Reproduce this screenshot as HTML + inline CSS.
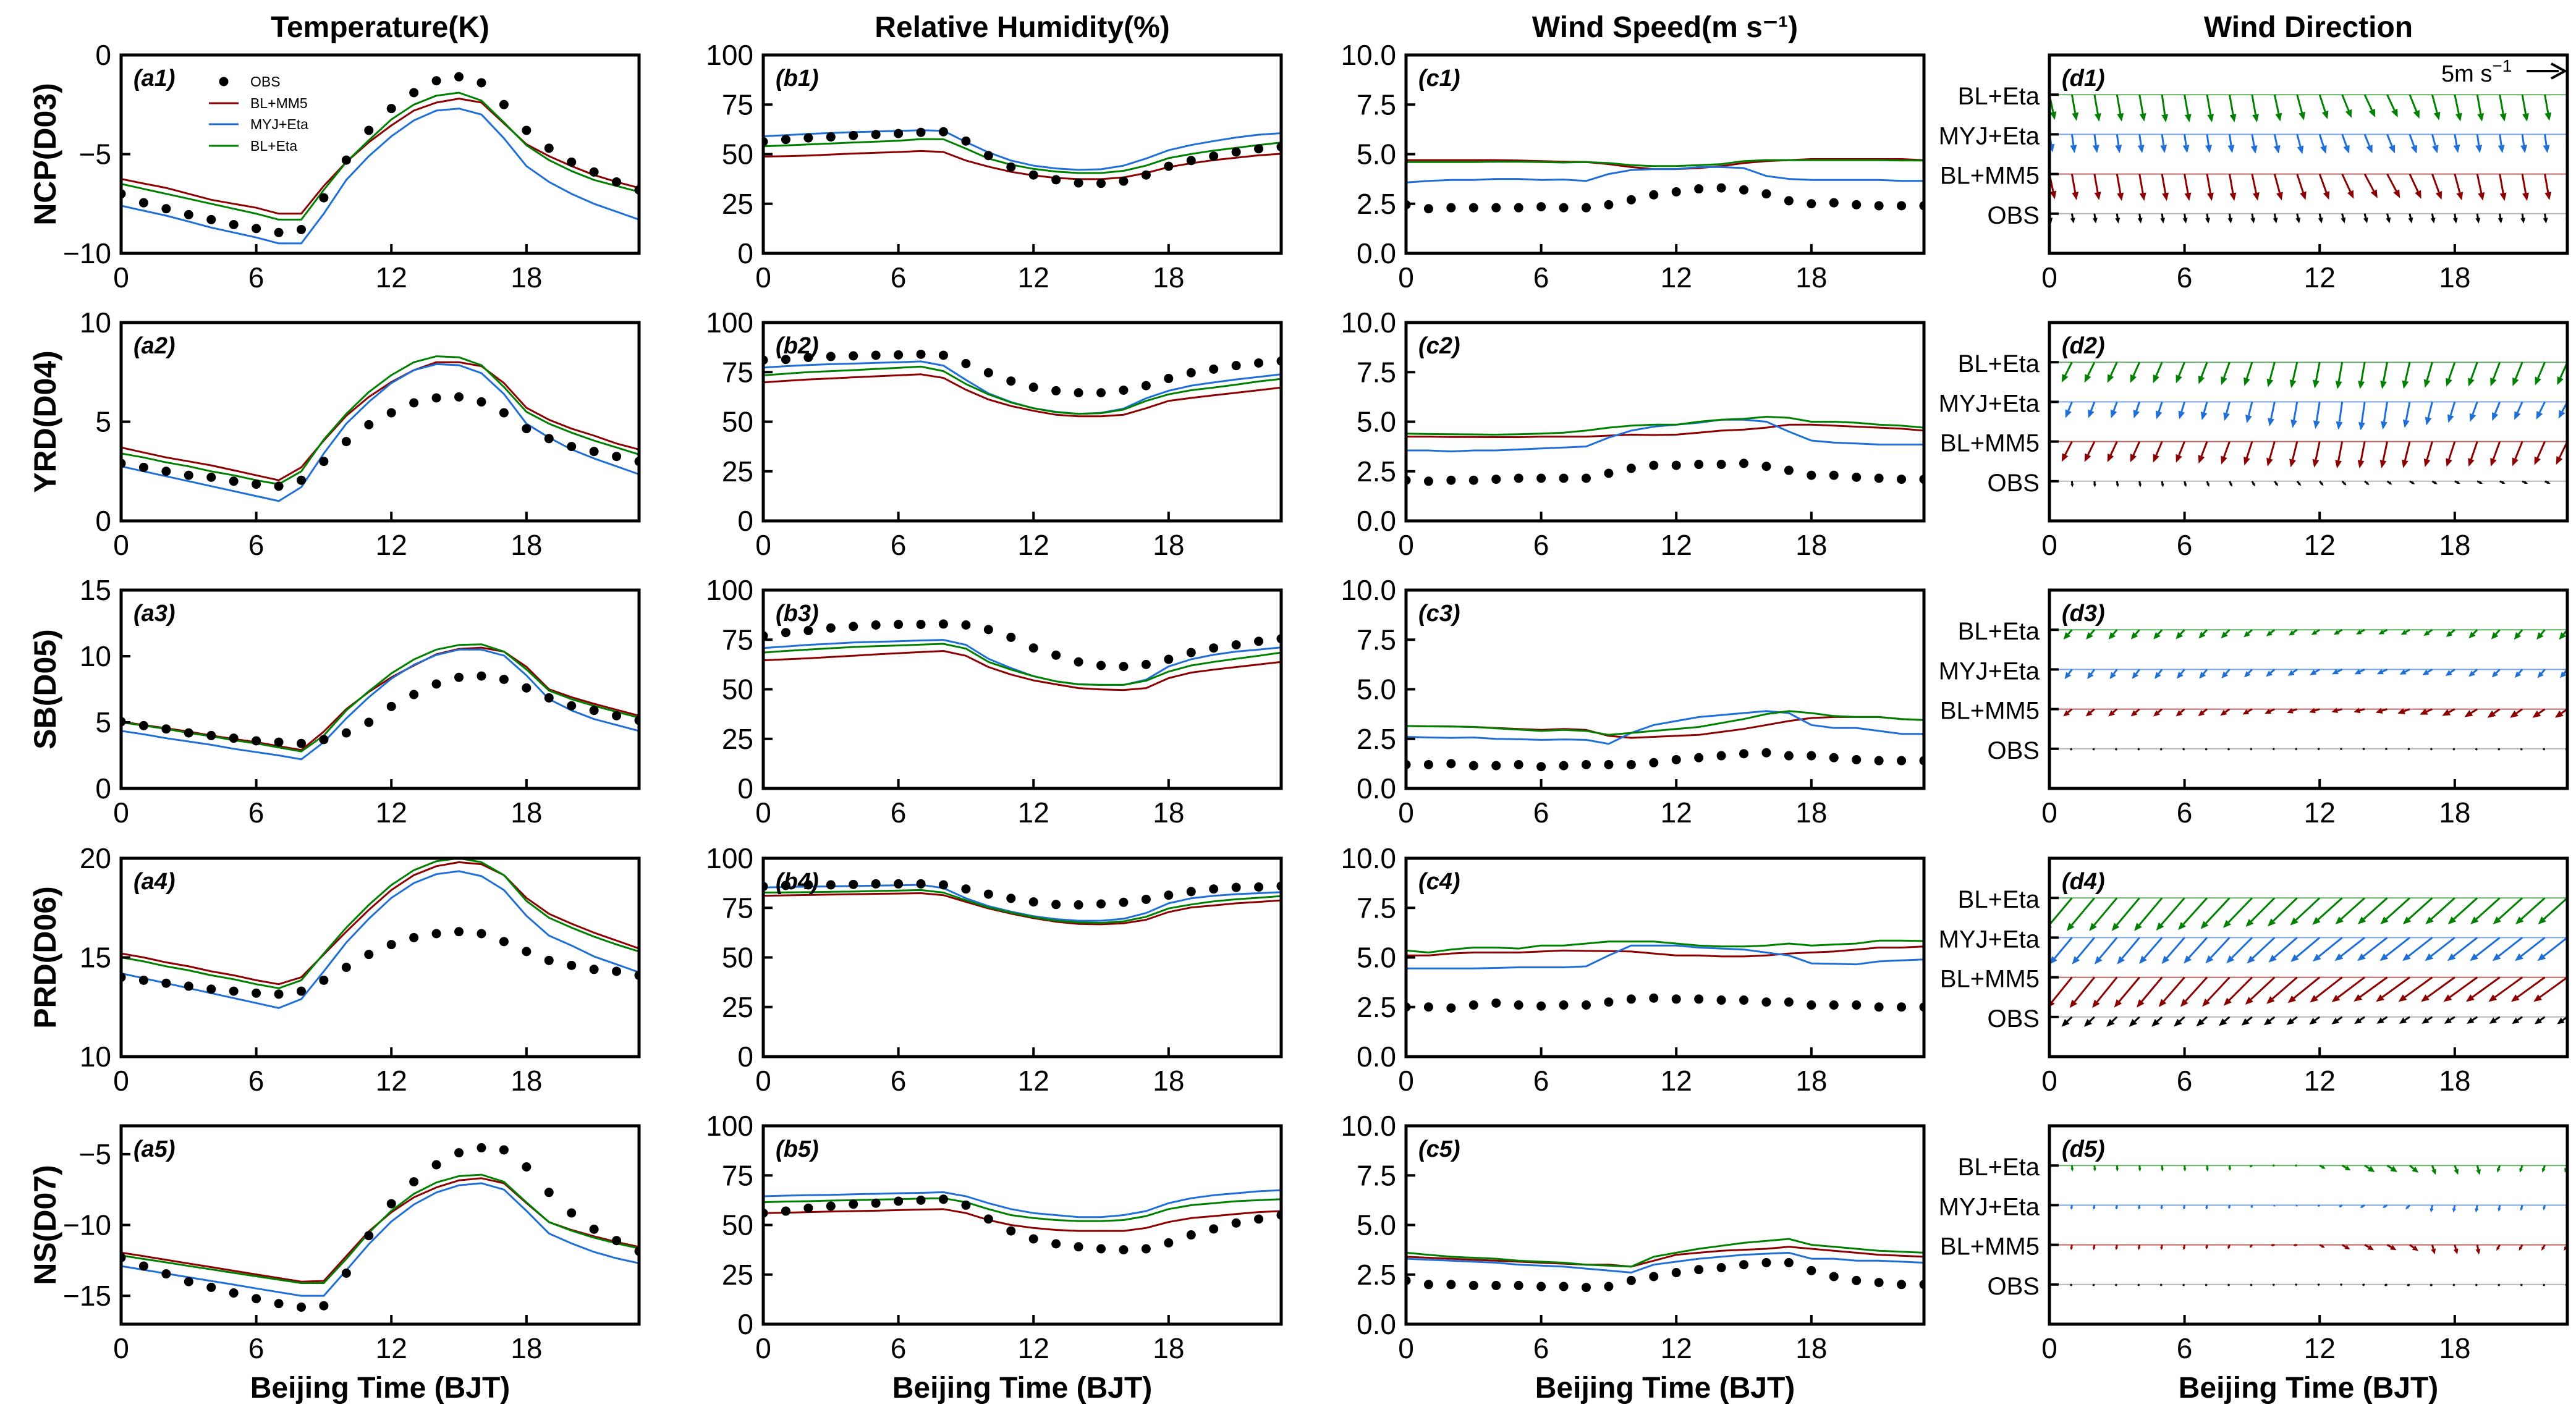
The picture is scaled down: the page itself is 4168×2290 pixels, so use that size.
<!DOCTYPE html>
<html><head><meta charset="utf-8"><title>Diurnal comparison</title>
<style>
html,body{margin:0;padding:0;background:#fff;}
svg{display:block;font-family:"Liberation Sans",sans-serif;}
</style></head>
<body>
<svg id="fig" width="4168" height="2290" viewBox="0 0 4168 2290" xmlns="http://www.w3.org/2000/svg"></svg>
<script>
// ---------- data ----------
const hours=[0,1,2,3,4,5,6,7,8,9,10,11,12,13,14,15,16,17,18,19,20,21,22,23];
const seriesNames=["OBS","BL+MM5","MYJ+Eta","BL+Eta"];
const colTitles=["Temperature(K)","Relative Humidity(%)","Wind Speed(m s\u207B\u00B9)","Wind Direction"];
const rowTitles=["NCP(D03)","YRD(D04)","SB(D05)","PRD(D06)","NS(D07)"];
const dirLevels=["OBS","BL+MM5","MYJ+Eta","BL+Eta"];

const a1_obs=[-7.0,-7.45,-7.75,-8.05,-8.3,-8.55,-8.75,-8.95,-8.8,-7.2,-5.3,-3.8,-2.7,-1.9,-1.3,-1.1,-1.4,-2.5,-3.8,-4.7,-5.4,-5.9,-6.4,-6.8];
const a1_mm5=[-6.25,-6.48,-6.7,-7.0,-7.3,-7.5,-7.7,-8.0,-8.0,-6.6,-5.4,-4.4,-3.55,-2.8,-2.4,-2.2,-2.4,-3.45,-4.5,-5.1,-5.6,-6.05,-6.4,-6.7];
const a1_myj=[-7.6,-7.85,-8.1,-8.4,-8.7,-8.95,-9.2,-9.5,-9.5,-8.0,-6.3,-5.1,-4.1,-3.3,-2.8,-2.7,-3.0,-4.2,-5.6,-6.4,-7.0,-7.5,-7.9,-8.3];
const a1_eta=[-6.5,-6.75,-7.0,-7.25,-7.5,-7.75,-8.0,-8.3,-8.3,-6.8,-5.4,-4.3,-3.25,-2.5,-2.05,-1.9,-2.3,-3.4,-4.55,-5.3,-5.85,-6.3,-6.6,-6.9];

const a2_obs=[2.9,2.7,2.5,2.3,2.2,2.0,1.85,1.75,2.05,3.0,4.0,4.85,5.45,5.95,6.2,6.25,6.0,5.45,4.65,4.15,3.75,3.5,3.25,3.0];
const a2_mm5=[3.7,3.45,3.2,3.0,2.8,2.55,2.3,2.05,2.7,4.05,5.3,6.25,7.0,7.6,8.0,8.0,7.8,6.95,5.7,5.1,4.65,4.3,3.9,3.6];
const a2_myj=[2.75,2.5,2.25,2.0,1.75,1.5,1.25,1.0,1.7,3.4,4.9,6.0,6.95,7.6,7.9,7.85,7.45,6.4,4.9,4.2,3.6,3.15,2.75,2.35];
const a2_eta=[3.4,3.2,2.95,2.75,2.5,2.3,2.05,1.85,2.5,4.1,5.4,6.5,7.35,8.0,8.3,8.25,7.85,6.75,5.5,4.9,4.45,4.05,3.7,3.35];

const a3_obs=[5.05,4.75,4.5,4.2,4.0,3.8,3.6,3.5,3.4,3.7,4.2,5.0,6.2,7.1,7.9,8.4,8.5,8.25,7.6,6.85,6.25,5.9,5.5,5.15];
const a3_mm5=[5.05,4.8,4.55,4.3,4.0,3.75,3.5,3.2,2.9,4.3,6.0,7.3,8.4,9.3,10.15,10.55,10.65,10.35,9.2,7.5,6.9,6.4,5.95,5.5];
const a3_myj=[4.35,4.1,3.8,3.55,3.3,3.0,2.75,2.5,2.2,3.5,5.3,6.9,8.3,9.35,10.1,10.5,10.5,10.05,8.55,6.75,5.9,5.25,4.8,4.35];
const a3_eta=[5.0,4.75,4.5,4.2,3.95,3.65,3.4,3.1,2.8,4.0,5.9,7.35,8.7,9.75,10.5,10.85,10.9,10.35,9.0,7.4,6.75,6.25,5.8,5.35];

const a4_obs=[14.0,13.85,13.7,13.55,13.4,13.3,13.2,13.15,13.3,13.85,14.5,15.15,15.65,16.0,16.2,16.3,16.2,15.8,15.3,14.85,14.6,14.4,14.3,14.1];
const a4_mm5=[15.2,15.0,14.75,14.55,14.3,14.1,13.85,13.65,14.0,15.15,16.3,17.4,18.4,19.15,19.6,19.8,19.7,19.15,18.0,17.2,16.7,16.25,15.85,15.45];
const a4_myj=[14.2,13.95,13.7,13.45,13.2,12.95,12.7,12.45,12.9,14.3,15.75,16.95,18.0,18.75,19.2,19.35,19.1,18.4,17.1,16.1,15.6,15.05,14.65,14.25];
const a4_eta=[15.0,14.8,14.55,14.35,14.1,13.9,13.65,13.45,13.85,15.2,16.5,17.65,18.65,19.4,19.85,20.0,19.8,19.15,17.85,17.0,16.5,16.05,15.65,15.3];

const a5_obs=[-12.3,-12.9,-13.45,-14.0,-14.4,-14.8,-15.2,-15.55,-15.8,-15.7,-13.4,-10.75,-8.5,-6.95,-5.75,-4.9,-4.55,-4.7,-5.9,-7.7,-9.15,-10.3,-11.1,-11.85];
const a5_mm5=[-11.95,-12.2,-12.46,-12.72,-12.97,-13.23,-13.49,-13.74,-14.0,-13.95,-12.2,-10.45,-9.1,-8.05,-7.35,-6.85,-6.7,-7.05,-8.45,-9.8,-10.35,-10.8,-11.2,-11.55];
const a5_myj=[-12.9,-13.16,-13.43,-13.69,-13.95,-14.21,-14.48,-14.74,-15.0,-15.0,-13.2,-11.35,-9.75,-8.55,-7.7,-7.2,-7.05,-7.5,-9.0,-10.6,-11.3,-11.9,-12.35,-12.7];
const a5_eta=[-12.15,-12.4,-12.64,-12.89,-13.13,-13.38,-13.62,-13.86,-14.1,-14.1,-12.4,-10.55,-9.0,-7.8,-7.0,-6.55,-6.45,-6.95,-8.4,-9.8,-10.4,-10.9,-11.3,-11.65];

const b1_obs=[56.3,57.4,58.2,58.7,59.4,59.9,60.4,61.0,61.3,56.6,49.3,43.5,39.5,37.1,35.5,35.3,36.4,39.5,43.9,46.8,49.0,51.1,52.7,53.7];
const b1_mm5=[48.8,49.0,49.3,49.8,50.3,50.7,51.1,51.6,51.1,46.8,43.7,41.1,39.3,38.0,37.4,37.4,38.3,40.5,43.5,45.4,47.0,48.2,49.4,50.2];
const b1_myj=[59.0,59.6,60.2,60.7,61.1,61.4,61.7,62.1,61.8,56.1,50.9,46.8,44.2,42.8,42.1,42.4,44.2,47.8,52.0,54.6,56.6,58.4,59.8,60.6];
const b1_eta=[54.0,54.4,54.9,55.4,55.9,56.3,56.8,57.6,57.5,52.8,47.8,44.7,42.6,41.2,40.5,40.5,41.6,44.2,48.0,50.1,51.8,53.2,54.6,55.9];

const b2_obs=[81.1,81.4,82.4,82.9,83.2,83.5,83.7,84.0,83.5,79.3,74.7,70.5,67.4,65.6,64.6,64.6,65.9,68.2,71.8,74.7,76.5,78.3,79.6,80.6];
const b2_mm5=[69.8,70.6,71.3,71.8,72.4,72.9,73.4,73.9,72.1,66.1,61.2,57.9,55.5,53.5,52.7,52.7,53.5,56.8,60.5,62.0,63.3,64.6,65.9,67.2];
const b2_myj=[77.3,78.0,78.6,79.0,79.3,79.7,80.0,80.4,78.3,71.1,64.3,59.9,56.8,55.0,54.0,54.5,56.6,61.8,65.6,68.2,69.8,71.3,72.6,73.9];
const b2_eta=[73.4,74.2,75.0,75.5,76.0,76.6,77.2,77.8,75.5,69.0,63.8,59.7,56.8,54.8,54.0,54.3,56.1,60.5,63.8,65.9,67.2,68.7,70.3,71.6];

const b3_obs=[77.0,78.6,79.6,80.9,81.7,82.4,82.7,82.7,82.9,82.4,80.1,76.2,70.8,67.2,63.8,62.0,61.5,62.5,65.1,68.5,70.8,72.4,74.2,75.5];
const b3_mm5=[64.6,65.1,65.6,66.3,66.9,67.6,68.2,68.8,69.3,66.9,61.2,57.4,54.5,52.5,50.6,49.9,49.6,50.6,55.6,58.4,59.9,61.2,62.5,63.8];
const b3_myj=[70.8,71.6,72.4,73.0,73.6,73.9,74.2,74.6,74.9,72.4,65.4,60.7,56.6,54.0,52.5,52.2,52.2,54.8,61.5,65.1,67.4,69.0,70.0,71.1];
const b3_eta=[68.5,69.3,70.0,70.7,71.3,71.7,72.1,72.5,72.9,70.5,63.8,59.9,56.6,54.0,52.5,52.2,52.2,54.3,58.9,62.0,63.8,65.4,66.9,68.5];

const b4_obs=[85.8,86.3,86.6,86.6,86.8,87.1,87.1,87.1,86.6,84.5,81.9,79.8,78.0,76.7,76.5,77.0,77.8,79.3,81.4,83.2,84.5,85.3,85.5,86.0];
const b4_mm5=[81.1,81.3,81.5,81.7,81.9,82.1,82.2,82.4,81.4,78.0,74.7,72.1,69.8,68.0,66.9,66.7,67.2,69.0,72.9,75.2,76.2,77.3,78.0,78.8];
const b4_myj=[85.3,85.5,85.7,85.8,86.0,86.2,86.4,86.6,85.0,79.8,75.9,73.1,70.8,69.3,68.5,68.5,69.5,72.4,77.3,79.8,81.1,81.9,82.4,82.9];
const b4_eta=[82.7,82.8,82.9,83.1,83.2,83.5,83.7,84.0,82.7,78.8,75.2,72.6,70.3,68.5,67.7,67.4,68.2,70.5,74.7,76.7,78.3,79.3,80.1,80.9];

const b5_obs=[56,57,58.5,59.5,60.5,61,62,62.5,63,60,53,47,43,40.5,39,38,37.5,38,41,45,48,51,53,55];
const b5_mm5=[56,56.2,56.5,56.8,57,57.2,57.5,57.8,58,56,52.5,50,48.5,47.5,47,47,47,48.5,51.5,53.5,54.5,55.5,56.5,57];
const b5_myj=[64.5,64.8,65,65.2,65.5,65.7,66,66.2,66.5,64.5,61,58,56,55,54,54,55,57,61,63.5,65,66,67,67.5];
const b5_eta=[61.5,61.8,62,62.3,62.5,62.8,63,63.3,63.5,61.5,58,55,53.5,52.5,52,52,52.5,54.5,58,60,61,62,62.5,63];

const c1_obs=[2.45,2.25,2.3,2.3,2.3,2.3,2.35,2.3,2.3,2.45,2.7,2.95,3.1,3.25,3.3,3.2,3.0,2.65,2.5,2.55,2.45,2.4,2.4,2.4];
const c1_mm5=[4.7,4.7,4.7,4.7,4.7,4.68,4.65,4.62,4.6,4.5,4.35,4.25,4.25,4.3,4.4,4.55,4.65,4.7,4.75,4.75,4.75,4.75,4.75,4.7];
const c1_myj=[3.57,3.65,3.7,3.7,3.75,3.75,3.7,3.72,3.65,4.0,4.2,4.25,4.25,4.35,4.35,4.3,3.9,3.75,3.7,3.7,3.7,3.7,3.65,3.65];
const c1_eta=[4.6,4.6,4.6,4.6,4.62,4.62,4.6,4.58,4.6,4.55,4.45,4.4,4.4,4.45,4.5,4.65,4.7,4.7,4.7,4.7,4.7,4.7,4.68,4.68];

const c2_obs=[2.05,2.0,2.05,2.05,2.1,2.15,2.15,2.15,2.15,2.4,2.65,2.8,2.8,2.85,2.85,2.9,2.75,2.55,2.3,2.3,2.2,2.15,2.1,2.1];
const c2_mm5=[4.25,4.25,4.23,4.23,4.22,4.22,4.25,4.25,4.25,4.3,4.35,4.33,4.35,4.45,4.55,4.6,4.7,4.85,4.85,4.8,4.75,4.7,4.65,4.55];
const c2_myj=[3.55,3.55,3.5,3.55,3.55,3.6,3.65,3.7,3.75,4.2,4.55,4.75,4.85,4.95,5.1,5.1,5.0,4.5,4.05,3.95,3.9,3.85,3.85,3.85];
const c2_eta=[4.4,4.38,4.37,4.36,4.35,4.37,4.4,4.45,4.55,4.7,4.8,4.85,4.85,5.0,5.1,5.15,5.25,5.2,5.0,5.0,4.95,4.85,4.8,4.7];

const c3_obs=[1.2,1.2,1.25,1.15,1.15,1.2,1.1,1.15,1.2,1.2,1.2,1.3,1.45,1.55,1.65,1.75,1.8,1.65,1.65,1.55,1.45,1.4,1.4,1.4];
const c3_mm5=[3.15,3.13,3.12,3.1,3.05,3.0,2.95,3.0,2.95,2.65,2.55,2.6,2.65,2.7,2.85,3.0,3.2,3.4,3.55,3.6,3.6,3.6,3.5,3.45];
const c3_myj=[2.6,2.57,2.55,2.57,2.5,2.48,2.45,2.47,2.45,2.25,2.8,3.2,3.4,3.6,3.7,3.8,3.9,3.8,3.2,3.05,3.05,2.9,2.75,2.75];
const c3_eta=[3.15,3.13,3.12,3.1,3.03,2.97,2.9,2.95,2.9,2.7,2.8,2.9,3.0,3.1,3.3,3.5,3.75,3.9,3.8,3.65,3.6,3.6,3.5,3.45];

const c4_obs=[2.5,2.5,2.45,2.6,2.7,2.6,2.55,2.6,2.6,2.75,2.9,2.95,2.9,2.9,2.85,2.85,2.75,2.75,2.6,2.6,2.6,2.5,2.5,2.5];
const c4_mm5=[5.1,5.1,5.2,5.25,5.25,5.25,5.3,5.35,5.33,5.32,5.3,5.2,5.1,5.1,5.05,5.05,5.1,5.2,5.25,5.3,5.4,5.5,5.5,5.55];
const c4_myj=[4.45,4.45,4.45,4.45,4.47,4.5,4.5,4.5,4.55,5.1,5.6,5.6,5.6,5.5,5.45,5.4,5.25,5.1,4.7,4.68,4.65,4.8,4.85,4.9];
const c4_eta=[5.35,5.25,5.4,5.5,5.5,5.45,5.6,5.6,5.7,5.8,5.8,5.8,5.7,5.6,5.55,5.55,5.6,5.7,5.6,5.65,5.7,5.85,5.85,5.83];

const c5_obs=[2.2,2.0,2.0,1.95,1.95,1.95,1.9,1.9,1.85,1.9,2.2,2.4,2.6,2.75,2.85,3.0,3.1,3.1,2.7,2.4,2.2,2.1,2.0,2.0];
const c5_mm5=[3.4,3.35,3.3,3.25,3.2,3.15,3.1,3.05,3.0,3.0,2.9,3.2,3.5,3.6,3.7,3.75,3.8,3.9,3.8,3.7,3.6,3.5,3.45,3.4];
const c5_myj=[3.3,3.25,3.2,3.15,3.1,3.0,2.95,2.9,2.8,2.7,2.6,3.0,3.15,3.3,3.4,3.5,3.55,3.6,3.3,3.3,3.2,3.2,3.15,3.1];
const c5_eta=[3.6,3.5,3.4,3.35,3.3,3.2,3.15,3.1,3.0,2.95,2.9,3.4,3.6,3.8,3.95,4.1,4.2,4.3,4.0,3.9,3.8,3.7,3.65,3.6];

// wind direction (deg, blowing from) and vector-mean speed (m/s)
const d1_obs_dir=[350,350,352,352,352,352,352,352,352,350,350,348,348,346,346,346,348,350,352,352,352,352,352,352];
const d1_obs_spd=[1.3,1.3,1.3,1.3,1.3,1.3,1.3,1.3,1.3,1.3,1.3,1.3,1.3,1.3,1.3,1.3,1.3,1.3,1.3,1.3,1.3,1.3,1.3,1.3];
const d1_mm5_dir=[348,350,350,350,350,350,350,350,350,348,345,342,340,335,332,332,335,340,345,348,350,350,350,350];
const d1_mm5_spd=[3.4,3.5,3.5,3.6,3.6,3.6,3.6,3.6,3.6,3.6,3.6,3.6,3.6,3.6,3.6,3.6,3.6,3.6,3.6,3.6,3.6,3.6,3.5,3.5];
const d1_myj_dir=[350,352,352,352,352,352,352,352,352,350,348,345,342,340,338,338,340,345,350,352,352,352,352,352];
const d1_myj_spd=[2.4,2.5,2.5,2.5,2.5,2.5,2.5,2.5,2.5,2.6,2.6,2.7,2.7,2.7,2.7,2.7,2.7,2.6,2.5,2.5,2.5,2.5,2.5,2.5];
const d1_eta_dir=[348,350,350,350,350,352,350,350,350,350,348,345,342,338,335,335,338,345,348,350,350,350,350,350];
const d1_eta_spd=[3.4,3.5,3.6,3.6,3.6,3.7,3.7,3.7,3.7,3.7,3.6,3.5,3.4,3.3,3.3,3.3,3.4,3.5,3.6,3.6,3.6,3.6,3.5,3.5];

const d2_obs_dir=[355,355,355,350,350,350,345,340,335,330,325,320,320,315,310,305,300,300,295,295,295,295,295,295];
const d2_obs_spd=[0.8,0.8,0.8,0.8,0.8,0.8,0.8,0.8,0.8,0.8,0.8,0.8,0.8,0.8,0.8,0.8,0.8,0.8,0.8,0.8,0.8,0.8,0.8,0.8];
const d2_mm5_dir=[27,27,26,25,24,23,22,21,20,18,16,14,12,11,11,12,14,16,18,19,20,22,24,26];
const d2_mm5_spd=[3.0,3.0,3.0,3.0,3.0,3.0,3.0,3.1,3.2,3.3,3.4,3.5,3.5,3.6,3.6,3.6,3.6,3.5,3.5,3.5,3.5,3.5,3.4,3.4];
const d2_myj_dir=[22,22,21,20,19,18,17,16,15,14,12,10,9,8,8,9,11,14,17,20,22,24,26,28];
const d2_myj_spd=[2.3,2.3,2.3,2.3,2.3,2.4,2.4,2.5,2.6,2.9,3.3,3.5,3.6,3.7,3.8,3.7,3.5,3.2,2.9,2.8,2.7,2.6,2.6,2.5];
const d2_eta_dir=[27,27,26,25,24,23,22,21,20,18,15,13,11,10,10,11,13,16,19,20,21,22,23,24];
const d2_eta_spd=[3.0,3.0,3.0,3.0,3.0,3.0,3.0,3.1,3.2,3.3,3.4,3.5,3.5,3.6,3.6,3.6,3.6,3.5,3.4,3.4,3.4,3.4,3.3,3.3];

const d3_obs_dir=[60,60,60,60,60,60,60,60,65,70,75,75,80,80,80,80,75,70,65,60,60,60,60,60];
const d3_obs_spd=[0.3,0.3,0.3,0.3,0.3,0.3,0.3,0.3,0.3,0.3,0.3,0.3,0.3,0.3,0.3,0.3,0.3,0.3,0.3,0.3,0.3,0.3,0.3,0.3];
const d3_mm5_dir=[50,50,50,50,50,50,50,52,55,60,65,70,73,75,75,73,70,66,62,58,55,55,55,55];
const d3_mm5_spd=[1.5,1.5,1.5,1.5,1.5,1.5,1.5,1.5,1.5,1.45,1.45,1.45,1.45,1.45,1.5,1.6,1.7,1.8,1.9,2.0,2.0,2.0,2.0,2.0];
const d3_myj_dir=[37,37,37,37,38,38,40,40,42,45,50,55,60,65,65,65,63,60,55,50,45,42,40,40];
const d3_myj_spd=[1.6,1.6,1.6,1.6,1.6,1.6,1.6,1.6,1.6,1.5,1.5,1.5,1.5,1.5,1.5,1.5,1.5,1.5,1.5,1.5,1.5,1.5,1.5,1.5];
const d3_eta_dir=[41,41,41,41,42,42,43,44,45,48,52,55,58,60,62,62,60,55,50,45,42,40,40,40];
const d3_eta_spd=[1.7,1.7,1.7,1.7,1.7,1.7,1.7,1.6,1.6,1.5,1.4,1.35,1.3,1.3,1.3,1.3,1.35,1.4,1.5,1.6,1.7,1.7,1.7,1.7];

const d4_obs_dir=[47,47,47,47,47,47,48,49,50,51,52,53,54,55,56,57,57,57,57,57,57,56,55,55];
const d4_obs_spd=[1.9,1.9,1.9,1.9,1.9,1.9,1.9,1.9,1.85,1.8,1.8,1.75,1.7,1.7,1.65,1.65,1.65,1.65,1.65,1.65,1.65,1.65,1.65,1.65];
const d4_mm5_dir=[39,39,39,39,40,40,41,42,43,45,47,49,51,52,53,54,54,54,54,54,54,54,54,54];
const d4_mm5_spd=[5.2,5.2,5.2,5.2,5.2,5.2,5.2,5.25,5.3,5.3,5.3,5.35,5.4,5.4,5.45,5.45,5.5,5.5,5.5,5.5,5.5,5.5,5.5,5.5];
const d4_myj_dir=[40,40,40,40,40,41,41,42,43,45,47,49,50,51,52,52,52,52,52,52,52,52,52,52];
const d4_myj_spd=[4.6,4.6,4.6,4.6,4.6,4.6,4.6,4.6,4.65,4.8,5.0,5.0,5.0,5.0,5.0,5.0,5.0,5.0,5.0,5.0,5.0,5.0,5.0,5.0];
const d4_eta_dir=[40,40,40,40,40,40,41,42,43,44,45,46,47,48,48,48,48,48,48,48,48,48,48,48];
const d4_eta_spd=[5.7,5.7,5.7,5.7,5.7,5.7,5.7,5.7,5.6,5.5,5.4,5.4,5.3,5.3,5.2,5.2,5.2,5.2,5.2,5.2,5.2,5.2,5.2,5.2];

const d5_obs_dir=[60,60,60,60,60,60,60,60,60,60,70,80,80,80,75,70,65,60,60,60,60,60,60,60];
const d5_obs_spd=[0.3,0.3,0.3,0.3,0.3,0.3,0.3,0.3,0.3,0.3,0.3,0.3,0.3,0.3,0.35,0.4,0.4,0.35,0.3,0.3,0.3,0.3,0.3,0.3];
const d5_mm5_dir=[10,10,10,10,10,10,10,10,20,40,80,80,300,300,300,300,305,345,345,350,30,30,30,30];
const d5_mm5_spd=[0.7,0.7,0.7,0.7,0.7,0.7,0.7,0.6,0.6,0.5,0.5,0.5,0.8,1.2,1.4,1.4,1.4,1.3,1.3,1.3,0.9,0.9,0.9,0.9];
const d5_myj_dir=[10,10,10,10,10,10,10,10,10,10,30,45,60,60,60,60,45,10,10,10,10,15,15,15];
const d5_myj_spd=[0.6,0.6,0.6,0.6,0.6,0.6,0.6,0.6,0.5,0.4,0.2,0.2,0.3,0.5,0.7,0.7,0.8,1.0,1.0,1.0,0.9,0.8,0.7,0.6];
const d5_eta_dir=[355,355,355,355,355,355,355,355,355,60,90,90,300,300,303,303,310,340,340,345,20,20,20,20];
const d5_eta_spd=[0.8,0.8,0.8,0.8,0.8,0.8,0.8,0.8,0.7,0.4,0.3,0.3,0.9,1.3,1.6,1.6,1.5,1.3,1.3,1.3,1.0,1.0,1.0,1.0];

const tempYlims=[[-10,0],[0,10],[0,15],[10,20],[-17,-3]];
const tempYticks=[[-10,-5,0],[0,5,10],[0,5,10,15],[10,15,20],[-15,-10,-5]];
const rhYticks=[0,25,50,75,100];
const wsYticks=[0,2.5,5,7.5,10];
const xTicks=[0,6,12,18];

// ---------- layout ----------
const NS="http://www.w3.org/2000/svg";
const svg=document.getElementById('fig');
const colL=[196,1235,2275,3316], PW=838;
const rowT=[89,522,955,1389,1822], PH=321;
const COLORS=["#000000","#8b0000","#1f6fd6","#008000"];
const PXPERMS=12.3;

function el(tag,attrs,parent){const e=document.createElementNS(NS,tag);for(const k in attrs)e.setAttribute(k,attrs[k]);(parent||svg).appendChild(e);return e;}
function fmt(v,dec){const s=dec?v.toFixed(1):String(v);return s.replace('-','\u2212');}
function xs(c,h){return colL[c]+h/23*PW;}

const defs=el('defs',{});
const panelData={
 a:[[a1_obs,a1_mm5,a1_myj,a1_eta],[a2_obs,a2_mm5,a2_myj,a2_eta],[a3_obs,a3_mm5,a3_myj,a3_eta],[a4_obs,a4_mm5,a4_myj,a4_eta],[a5_obs,a5_mm5,a5_myj,a5_eta]],
 b:[[b1_obs,b1_mm5,b1_myj,b1_eta],[b2_obs,b2_mm5,b2_myj,b2_eta],[b3_obs,b3_mm5,b3_myj,b3_eta],[b4_obs,b4_mm5,b4_myj,b4_eta],[b5_obs,b5_mm5,b5_myj,b5_eta]],
 c:[[c1_obs,c1_mm5,c1_myj,c1_eta],[c2_obs,c2_mm5,c2_myj,c2_eta],[c3_obs,c3_mm5,c3_myj,c3_eta],[c4_obs,c4_mm5,c4_myj,c4_eta],[c5_obs,c5_mm5,c5_myj,c5_eta]],
 d:[[[d1_obs_dir,d1_obs_spd],[d1_mm5_dir,d1_mm5_spd],[d1_myj_dir,d1_myj_spd],[d1_eta_dir,d1_eta_spd]],
    [[d2_obs_dir,d2_obs_spd],[d2_mm5_dir,d2_mm5_spd],[d2_myj_dir,d2_myj_spd],[d2_eta_dir,d2_eta_spd]],
    [[d3_obs_dir,d3_obs_spd],[d3_mm5_dir,d3_mm5_spd],[d3_myj_dir,d3_myj_spd],[d3_eta_dir,d3_eta_spd]],
    [[d4_obs_dir,d4_obs_spd],[d4_mm5_dir,d4_mm5_spd],[d4_myj_dir,d4_myj_spd],[d4_eta_dir,d4_eta_spd]],
    [[d5_obs_dir,d5_obs_spd],[d5_mm5_dir,d5_mm5_spd],[d5_myj_dir,d5_myj_spd],[d5_eta_dir,d5_eta_spd]]]
};
const letters=['a','b','c','d'];

// column titles
colTitles.forEach((t,c)=>{
  const tx=el('text',{x:colL[c]+PW/2,y:60,'text-anchor':'middle','font-size':48,'font-weight':'bold'});
  
  
  tx.textContent=t;
});
// row titles
rowTitles.forEach((t,r)=>{
  const cy=rowT[r]+PH/2;
  const tx=el('text',{x:0,y:0,transform:`translate(90,${cy}) rotate(-90)`,'text-anchor':'middle','font-size':50,'font-weight':'bold'});
  
  
  tx.textContent=t;
});

function drawArrow(g,x,y,dx,dy,color){
  const len=Math.hypot(dx,dy); if(len<0.5)return;
  const ux=dx/len, uy=dy/len;
  const hl=Math.min(13,len*0.55), hw=Math.min(5.5,Math.max(2.5,len*0.25));
  const bx=x+dx-ux*hl, by=y+dy-uy*hl;
  const ln=el('line',{x1:x,y1:y,x2:bx,y2:by,stroke:color,'stroke-width':3},g);
  
  
  const hd=el('polygon',{points:`${x+dx},${y+dy} ${bx-uy*hw},${by+ux*hw} ${bx+uy*hw},${by-ux*hw}`,fill:color},g);
  
  
}

for(let r=0;r<5;r++){
  for(let c=0;c<4;c++){
    const L=colL[c],T=rowT[r],id=letters[c]+(r+1);
    const g=el('g',{});
    
    
    const cp=el('clipPath',{id:'clip-'+id},defs);
    el('rect',{x:L,y:T,width:PW,height:PH},cp);
    const plot=el('g',{'clip-path':`url(#clip-${id})`},g);
    
    
    let ylim,yticks,dec=false;
    if(c===0){ylim=tempYlims[r];yticks=tempYticks[r];}
    else if(c===1){ylim=[0,100];yticks=rhYticks;}
    else if(c===2){ylim=[0,10];yticks=wsYticks;dec=true;}
    else {ylim=[0,5];yticks=[1,2,3,4];}
    const ys=v=>T+(ylim[1]-v)/(ylim[1]-ylim[0])*PH;
    if(c<3){
      const ser=panelData[letters[c]][r];
      for(let s=1;s<4;s++){
        const pts=hours.map((h,i)=>xs(c,h).toFixed(1)+','+ys(ser[s][i]).toFixed(1)).join(' ');
        const pl=el('polyline',{points:pts,fill:'none',stroke:COLORS[s],'stroke-width':3,'stroke-linejoin':'round'},plot);
        
        
      }
      hours.forEach((h,i)=>{
        const d=el('circle',{cx:xs(c,h),cy:ys(ser[0][i]),r:7.5,fill:'#000'},plot);
        
        
      });
    } else {
      const ser=panelData.d[r];
      for(let s=0;s<4;s++){
        const lv=s+1;
        const hl=el('line',{x1:L,y1:ys(lv),x2:L+PW,y2:ys(lv),stroke:s===0?'#888':COLORS[s],'stroke-width':2,opacity:0.6},plot);
        
        
        hours.forEach((h,i)=>{
          const th=ser[s][0][i]*Math.PI/180, sp=ser[s][1][i]*PXPERMS;
          drawArrow(plot,xs(c,h),ys(lv),-Math.sin(th)*sp,Math.cos(th)*sp,COLORS[s]);
        });
      }
    }
    // frame
    const fr=el('rect',{x:L,y:T,width:PW,height:PH,fill:'none',stroke:'#000','stroke-width':5},g);
    
    
    // y ticks
    yticks.forEach(v=>{
      const y=ys(v);
      const tk=el('line',{x1:L,y1:y,x2:L+15,y2:y,stroke:'#000','stroke-width':4},g);
      
      
      const lb=el('text',{x:L-16,y:y+16,'text-anchor':'end','font-size':c===3?40:46},g);
      
      
      lb.textContent=c===3?dirLevels[v-1]:fmt(v,dec);
    });
    // x ticks
    xTicks.forEach(h=>{
      const x=xs(c,h);
      if(h>0){
        const tk=el('line',{x1:x,y1:T+PH,x2:x,y2:T+PH-15,stroke:'#000','stroke-width':4},g);
        
        
      }
      const lb=el('text',{x:x,y:T+PH+55,'text-anchor':'middle','font-size':46},g);
      
      
      lb.textContent=String(h);
    });
    // panel label
    const pl=el('text',{x:L+20,y:T+50,'font-size':38,'font-weight':'bold','font-style':'italic'},g);
    
    
    pl.textContent='('+id+')';
    if(r===4){
      const xt=el('text',{x:L+PW/2,y:2262,'text-anchor':'middle','font-size':48,'font-weight':'bold'},g);
      
      
      xt.textContent='Beijing Time (BJT)';
    }
  }
}

// legend in a1
const lg=el('g',{});


const legY=[132,167,201,236];
seriesNames.forEach((n,s)=>{
  if(s===0){
    const m=el('circle',{cx:362,cy:legY[s],r:7.5,fill:'#000'},lg);
    
    
  } else {
    const m=el('line',{x1:338,y1:legY[s],x2:386,y2:legY[s],stroke:COLORS[s],'stroke-width':3},lg);
    
    
  }
  const t=el('text',{x:405,y:legY[s]+8,'font-size':23},lg);
  
  
  t.textContent=n;
});

// reference arrow in d1
const ref=el('g',{});


const rt=el('text',{x:3950,y:132,'font-size':38},ref);


rt.innerHTML='5m s<tspan dy="-16" font-size="28">\u22121</tspan>';
const rl=el('line',{x1:4088,y1:115,x2:4140,y2:115,stroke:'#000','stroke-width':4},ref);


const rh=el('polyline',{points:'4128,103 4150,115 4128,127',fill:'none',stroke:'#000','stroke-width':4},ref);


</script>
</body></html>
